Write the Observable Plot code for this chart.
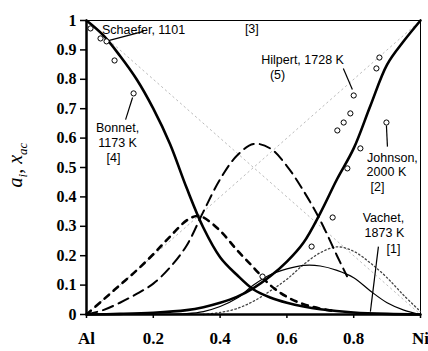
<!DOCTYPE html>
<html>
<head>
<meta charset="utf-8">
<script src="https://cdn.jsdelivr.net/npm/d3@7"></script>
<script src="https://cdn.jsdelivr.net/npm/@observablehq/plot@0.6"></script>
<style>
  html, body { margin: 0; padding: 0; background: #fff; }
  #chart { width: 428px; height: 351px; }
</style>
</head>
<body>
<div id="chart"></div>
<script>
// ---- data ----
const xAl = [0, 0.05, 0.1, 0.15, 0.2, 0.25, 0.3, 0.35, 0.4, 0.45, 0.5, 0.55, 0.6, 0.65, 0.7, 0.8, 0.9, 1];
const aAl = [1, 0.95, 0.88, 0.80, 0.70, 0.58, 0.43, 0.295, 0.195, 0.135, 0.085, 0.058, 0.04, 0.027, 0.018, 0.007, 0.002, 0];

const xNi = [0, 0.1, 0.2, 0.3, 0.35, 0.4, 0.45, 0.5, 0.55, 0.6, 0.65, 0.7, 0.75, 0.8, 0.85, 0.9, 0.95, 1];
const aNi = [0, 0.002, 0.006, 0.015, 0.025, 0.04, 0.06, 0.09, 0.13, 0.18, 0.245, 0.345, 0.46, 0.565, 0.71, 0.85, 0.93, 1];

const xLong = [0, 0.05, 0.1, 0.15, 0.2, 0.25, 0.3, 0.35, 0.4, 0.45, 0.5, 0.55, 0.6, 0.65, 0.7, 0.75, 0.78];
const yLong = [0, 0.015, 0.04, 0.07, 0.105, 0.16, 0.235, 0.35, 0.46, 0.54, 0.58, 0.565, 0.505, 0.42, 0.32, 0.2, 0.13];

const xShort = [0, 0.05, 0.1, 0.15, 0.2, 0.25, 0.3, 0.33, 0.35, 0.4, 0.45, 0.5, 0.55, 0.6, 0.65, 0.7, 0.75];
const yShort = [0, 0.05, 0.1, 0.15, 0.205, 0.265, 0.32, 0.335, 0.33, 0.285, 0.22, 0.16, 0.1, 0.06, 0.035, 0.02, 0.01];

const xThin = [0.2, 0.3, 0.35, 0.4, 0.45, 0.5, 0.55, 0.6, 0.65, 0.7, 0.75, 0.8, 0.85, 0.9, 0.95, 1];
const yThin = [0, 0.003, 0.01, 0.027, 0.055, 0.1, 0.135, 0.155, 0.167, 0.165, 0.15, 0.125, 0.08, 0.04, 0.015, 0];

const xDot = [0.35, 0.4, 0.45, 0.5, 0.55, 0.6, 0.65, 0.7, 0.75, 0.8, 0.85, 0.9, 0.95, 1];
const yDot = [0, 0.007, 0.02, 0.045, 0.08, 0.12, 0.17, 0.21, 0.23, 0.215, 0.175, 0.125, 0.065, 0.01];

const xIdeal = [0, 1];
const yIdealAl = [1, 0];
const yIdealNi = [0, 1];

const obsX = [0.012, 0.042, 0.06, 0.084, 0.141, 0.877, 0.868, 0.80, 0.79, 0.77, 0.751, 0.898, 0.82, 0.781, 0.737, 0.674, 0.527];
const obsY = [0.973, 0.939, 0.929, 0.864, 0.752, 0.874, 0.837, 0.745, 0.684, 0.653, 0.626, 0.653, 0.565, 0.497, 0.33, 0.231, 0.129];

const xTicks = [0, 0.2, 0.4, 0.6, 0.8, 1];
const xTickLabels = ["Al", "0.2", "0.4", "0.6", "0.8", "Ni"];
const yTicks = [0, 0.1, 0.2, 0.3, 0.4, 0.5, 0.6, 0.7, 0.8, 0.9, 1];
const yTickLabels = ["0", "0.1", "0.2", "0.3", "0.4", "0.5", "0.6", "0.7", "0.8", "0.9", "1"];

// annotation texts (anchored in data units)
const noteText = ["Schaefer, 1101", "[3]", "Hilpert, 1728 K", "(5)", "Johnson,", "2000 K", "[2]", "Vachet,", "1873 K", "[1]", "Bonnet,", "1173 K", "[4]"];
const noteX = [0.171, 0.495, 0.647, 0.572, 0.916, 0.898, 0.871, 0.889, 0.892, 0.919, 0.093, 0.093, 0.081];
const noteY = [0.969, 0.972, 0.864, 0.816, 0.534, 0.483, 0.432, 0.327, 0.276, 0.224, 0.636, 0.585, 0.534];
const noteAnchor = ["start", "middle", "middle", "middle", "middle", "middle", "middle", "middle", "middle", "middle", "middle", "middle", "middle"];

const leadX1 = [0.057, 0.769, 0.898, 0.874, 0.138];
const leadY1 = [0.929, 0.837, 0.643, 0.231, 0.738];
const leadX2 = [0.171, 0.796, 0.901, 0.850, 0.117];
const leadY2 = [0.963, 0.765, 0.571, 0.010, 0.663];

// ---- build tables ----
const zipXY = (xs, ys) => xs.map((x, i) => ({x, y: ys[i]}));
const notes = noteText.map((t, i) => ({t, x: noteX[i], y: noteY[i], a: noteAnchor[i]}));
const leads = leadX1.map((x1, i) => ({x1, y1: leadY1[i], x2: leadX2[i], y2: leadY2[i]}));
const xLab = new Map(xTicks.map((t, i) => [t, xTickLabels[i]]));
const yLab = new Map(yTicks.map((t, i) => [t, yTickLabels[i]]));

const serif = "'Liberation Serif', 'DejaVu Serif', serif";
const sans = "'Liberation Sans', Arial, sans-serif";

const chart = Plot.plot({
  width: 428,
  height: 351,
  marginLeft: 86,
  marginRight: 8,
  marginTop: 20,
  marginBottom: 37,
  x: {domain: [0, 1]},
  y: {domain: [0, 1]},
  style: {background: "#fff", color: "#000"},
  marks: [
    Plot.frame({stroke: "#000", strokeWidth: 1}),
    Plot.line(zipXY(xIdeal, yIdealAl), {x: "x", y: "y", stroke: "#bbb", strokeWidth: 1, strokeDasharray: "1.5,3.5"}),
    Plot.line(zipXY(xIdeal, yIdealNi), {x: "x", y: "y", stroke: "#bbb", strokeWidth: 1, strokeDasharray: "1.5,3.5"}),
    Plot.line(zipXY(xDot, yDot), {x: "x", y: "y", curve: "catmull-rom", stroke: "#444", strokeWidth: 1.3, strokeDasharray: "1.5,2.5"}),
    Plot.line(zipXY(xThin, yThin), {x: "x", y: "y", curve: "catmull-rom", stroke: "#000", strokeWidth: 1.2}),
    Plot.line(zipXY(xLong, yLong), {x: "x", y: "y", curve: "catmull-rom", stroke: "#000", strokeWidth: 2, strokeDasharray: "11,6"}),
    Plot.line(zipXY(xShort, yShort), {x: "x", y: "y", curve: "catmull-rom", stroke: "#000", strokeWidth: 2.6, strokeDasharray: "6,6"}),
    Plot.line(zipXY(xAl, aAl), {x: "x", y: "y", curve: "catmull-rom", stroke: "#000", strokeWidth: 2.6}),
    Plot.line(zipXY(xNi, aNi), {x: "x", y: "y", curve: "catmull-rom", stroke: "#000", strokeWidth: 2.6}),
    Plot.link(leads, {x1: "x1", y1: "y1", x2: "x2", y2: "y2", stroke: "#000", strokeWidth: 1.2}),
    Plot.dot(zipXY(obsX, obsY), {x: "x", y: "y", r: 2.6, fill: "#fff", stroke: "#000", strokeWidth: 1}),
    Plot.text(notes, {x: "x", y: "y", text: "t", textAnchor: "a", fontFamily: sans, fontSize: 12.5, fill: "#000"}),
    Plot.ruleX([0], {stroke: "#000", strokeWidth: 2.5}),
    Plot.ruleY([0], {stroke: "#000", strokeWidth: 2.5}),
    Plot.axisX({ticks: xTicks, tickFormat: d => xLab.get(d), tickSize: 4, tickPadding: 13, label: null,
      fontFamily: serif, fontWeight: "bold", fontSize: 17, strokeWidth: 1.5}),
    Plot.axisY({ticks: yTicks, tickFormat: d => yLab.get(d), tickSize: 6, tickPadding: 4, label: null,
      fontFamily: serif, fontWeight: "bold", fontSize: 16, strokeWidth: 1.5})
  ]
});

// y-axis title with subscripts
const t = d3.select(chart).append("text")
  .attr("transform", "translate(22,165) rotate(-90)")
  .attr("text-anchor", "middle")
  .attr("font-family", serif)
  .attr("font-style", "italic")
  .attr("font-size", 20)
  .attr("fill", "#000");
t.append("tspan").text("a");
t.append("tspan").attr("font-size", 13).attr("dy", 5).text("i");
t.append("tspan").attr("dy", -5).text(", x");
t.append("tspan").attr("font-size", 13).attr("dy", 5).text("ac");

document.getElementById("chart").appendChild(chart);
</script>
</body>
</html>
